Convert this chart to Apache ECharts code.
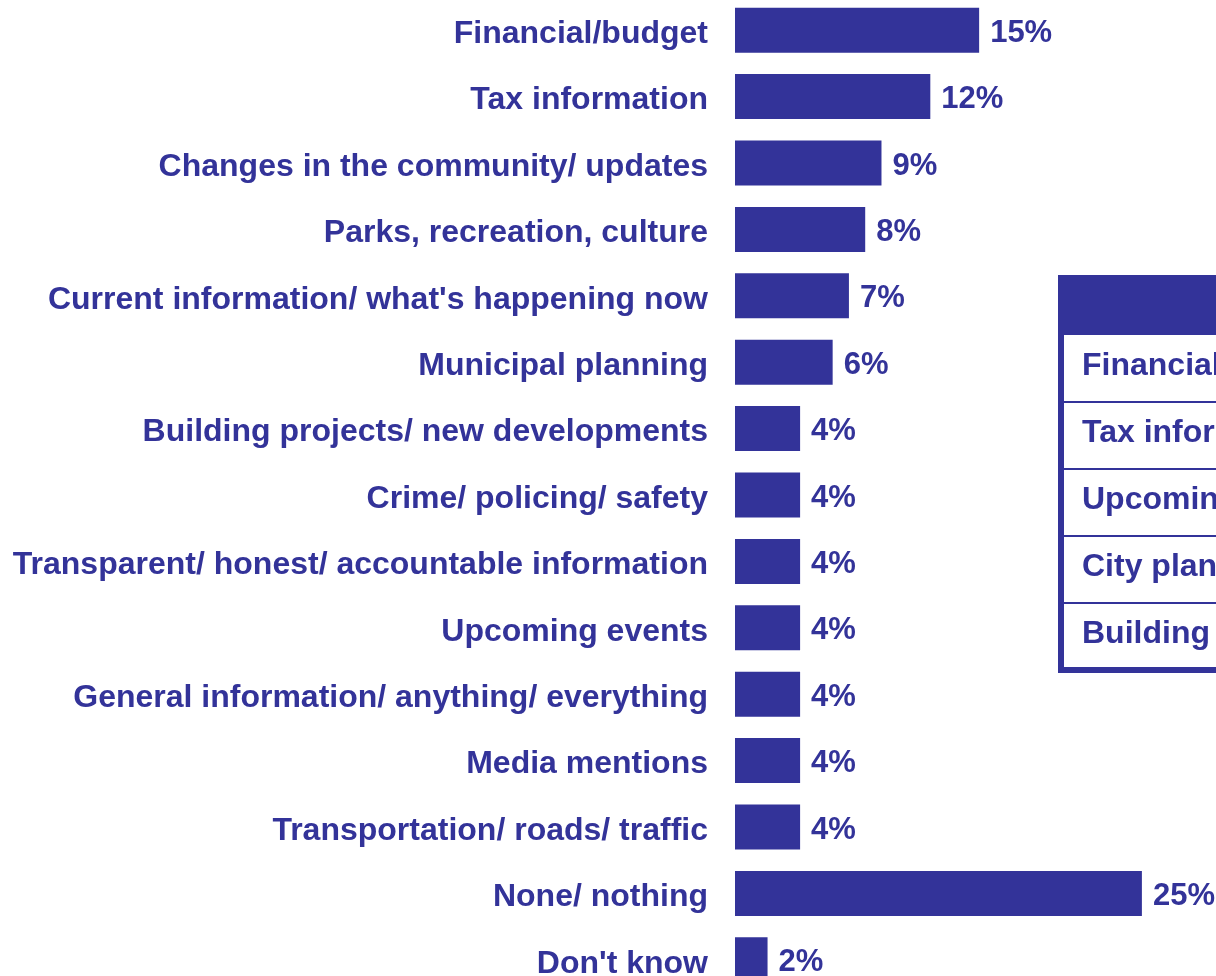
<!DOCTYPE html>
<html>
<head>
<meta charset="utf-8">
<script src="https://cdn.jsdelivr.net/npm/echarts@6/dist/echarts.min.js"></script>
<style>
  html, body { margin: 0; padding: 0; background: #fff; }
  #chart { width: 1216px; height: 976px; }
</style>
</head>
<body>
<div id="chart"></div>
<script>
// topics mentioned (top to bottom)
const categories = [
  "Financial/budget",
  "Tax information",
  "Changes in the community/ updates",
  "Parks, recreation, culture",
  "Current information/ what's happening now",
  "Municipal planning",
  "Building projects/ new developments",
  "Crime/ policing/ safety",
  "Transparent/ honest/ accountable information",
  "Upcoming events",
  "General information/ anything/ everything",
  "Media mentions",
  "Transportation/ roads/ traffic",
  "None/ nothing",
  "Don't know"
];
const values = [15, 12, 9, 8, 7, 6, 4, 4, 4, 4, 4, 4, 4, 25, 2];

// side table (cut off by the right edge)
const tableRows = [
  "Financial/budget",
  "Tax information",
  "Upcoming events",
  "City planning",
  "Building projects"
];

const blue = "#333399";
const font = "Liberation Sans, Arial, Helvetica, sans-serif";

const chart = echarts.init(document.getElementById("chart"));

// table drawn with graphic elements
const tblLeft = 1061, tblTop = 275, headH = 60, rowH = 67;
const graphic = [];
graphic.push({
  type: "rect", left: tblLeft - 3, top: tblTop, z: 10,
  shape: { width: 200, height: headH + rowH * tableRows.length + 3 },
  style: { fill: blue }
});
graphic.push({
  type: "rect", left: tblLeft + 3, top: tblTop + headH, z: 11,
  shape: { width: 200, height: rowH * tableRows.length - 3 },
  style: { fill: "#fff" }
});
tableRows.forEach((t, i) => {
  if (i > 0) {
    graphic.push({
      type: "rect", left: tblLeft + 3, top: tblTop + headH + rowH * i - 1, z: 12,
      shape: { width: 200, height: 2 },
      style: { fill: blue }
    });
  }
  graphic.push({
    type: "text", left: tblLeft + 21, top: tblTop + headH + rowH * i + 15, z: 13,
    style: { text: t, fill: blue, font: "bold 32px " + font }
  });
});

chart.setOption({
  animation: false,
  grid: {
    left: 735, right: 9, top: -3, height: 996,
    containLabel: false, outerBoundsMode: "none"
  },
  xAxis: {
    type: "value", min: 0, max: 29, show: false
  },
  yAxis: {
    type: "category",
    inverse: true,
    data: categories,
    axisLine: { show: false },
    axisTick: { show: false },
    axisLabel: {
      margin: 27,
      formatter: "{t|{value}}",
      rich: {
        t: {
          padding: [8, 0, 0, 0],
          color: blue,
          fontFamily: font,
          fontWeight: "bold",
          fontSize: 32
        }
      }
    }
  },
  series: [{
    type: "bar",
    data: values,
    barWidth: 45,
    itemStyle: { color: blue },
    label: {
      show: true,
      position: "right",
      distance: 11,
      offset: [0, 3],
      formatter: "{c}%",
      color: blue,
      fontFamily: font,
      fontWeight: "bold",
      fontSize: 31
    }
  }],
  graphic: graphic
});
</script>
</body>
</html>
